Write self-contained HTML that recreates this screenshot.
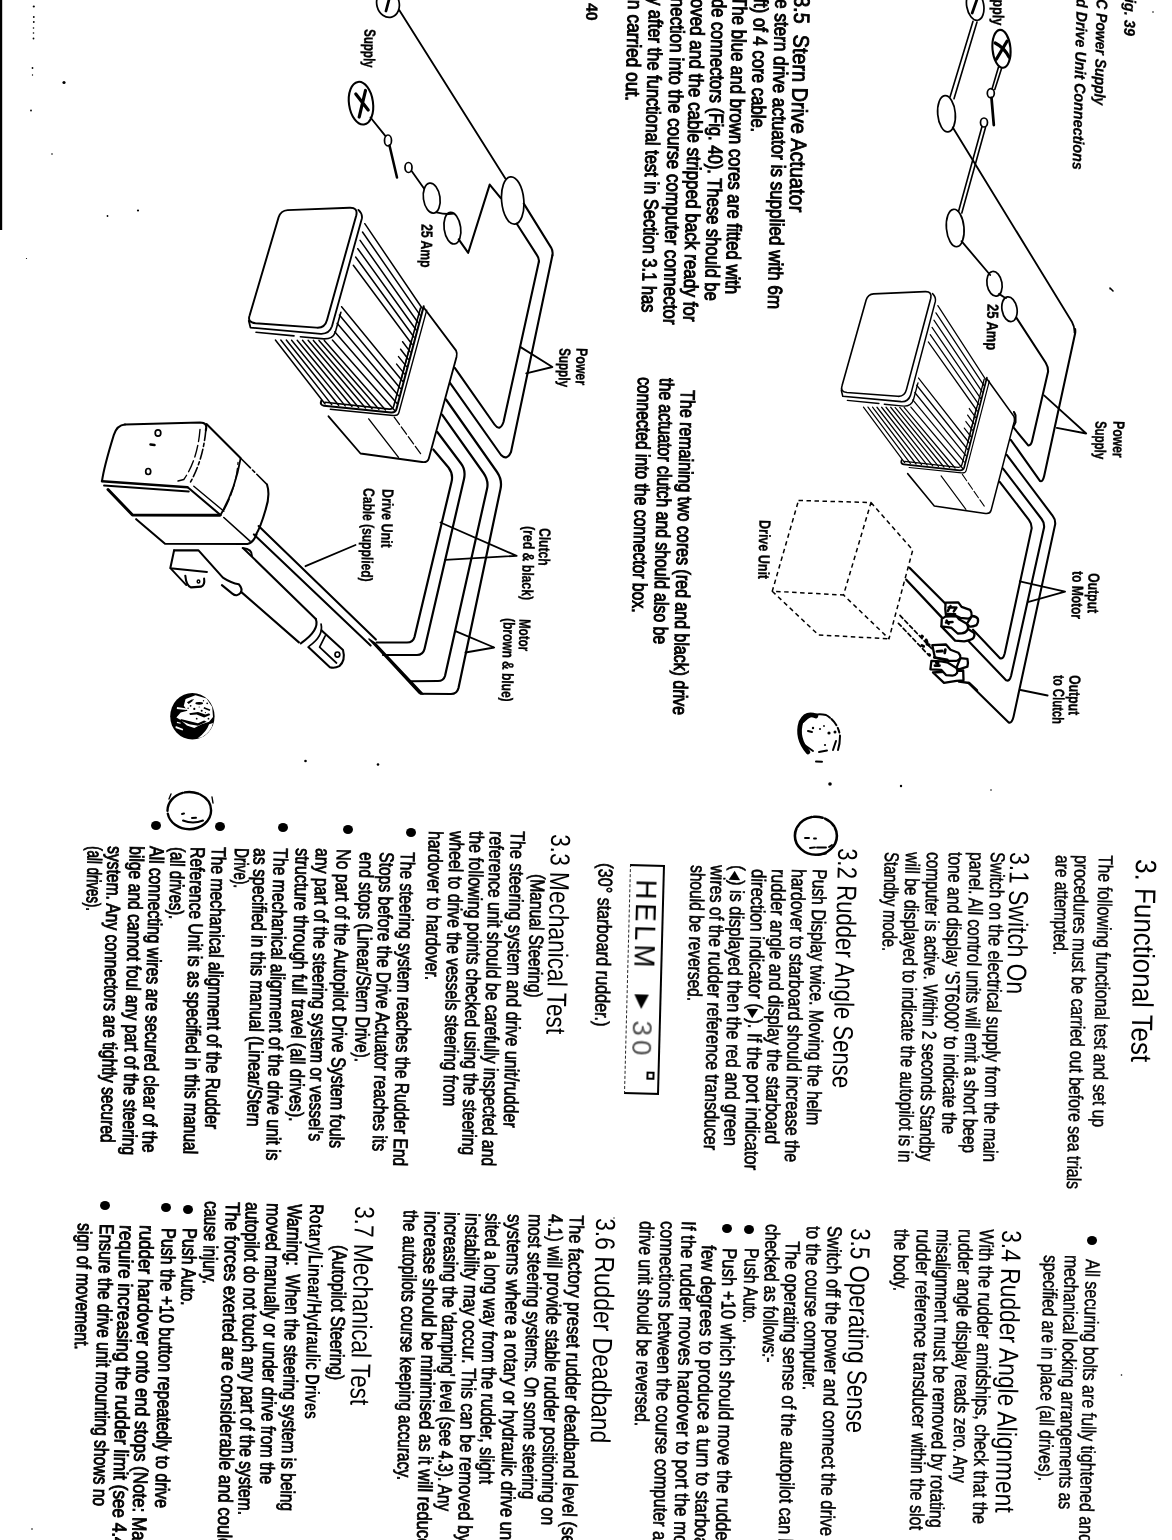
<!DOCTYPE html>
<html><head><meta charset="utf-8"><title>Functional Test</title><style>html,body{margin:0;padding:0;background:#fff}
body{width:1172px;height:1540px;position:relative;overflow:hidden;font-family:"Liberation Sans",sans-serif;color:#000}
.t{position:absolute;white-space:nowrap;line-height:1;transform-origin:0 0;margin:0;padding:0}
.b{font-size:20px;-webkit-text-stroke:0.6px #000}
.k{font-size:20px;-webkit-text-stroke:1px #000}
.bb{font-size:20px;font-weight:bold}
.h1{font-size:29.5px}
.h{font-size:27.5px}
.h3{font-size:22px;-webkit-text-stroke:0.9px #000}
.lab{font-size:16px;font-weight:bold;-webkit-text-stroke:0.35px #000}
.cap{font-size:15.5px;font-weight:bold;font-style:italic;-webkit-text-stroke:0.3px #000}
.t i{font-style:normal;font-family:"DejaVu Sans",sans-serif;font-size:15px;-webkit-text-stroke:0;line-height:0}
.t b{-webkit-text-stroke:0.9px #000;font-weight:normal}
.bl{position:absolute;width:10px;height:9px;border-radius:50%;background:#000}
svg{position:absolute;left:0;top:0}
#txt{position:absolute;left:0;top:0;width:1172px;height:1540px;will-change:transform}
</style></head><body>
<svg width="1172" height="1540" viewBox="0 0 1172 1540" fill="none" stroke="#000" stroke-linecap="round" stroke-linejoin="round">
<ellipse cx="388.0" cy="3.8" rx="11.2" ry="13.8" transform="rotate(-15 388.0 3.8)" stroke-width="1.72" />
<path d="M 389.2 -1.2 L 386.0 11.0" stroke-width="2.76" />
<path d="M 399.2 10.0 L 505.5 178.8" stroke-width="1.84" />
<ellipse cx="512.7" cy="200.5" rx="11.1" ry="23.8" transform="rotate(-5 512.7 200.5)" stroke-width="1.72" />
<ellipse cx="361.0" cy="103.2" rx="12.0" ry="21.5" transform="rotate(-8 361.0 103.2)" stroke-width="2.07" />
<path d="M 355.8 94.0 L 368.2 110.0 M 365.5 90.5 L 359.2 117.0" stroke-width="3.22" />
<path d="M 370.5 117.5 L 385.5 136.2" stroke-width="1.84" />
<ellipse cx="388.0" cy="140.5" rx="3.5" ry="5.5" transform="rotate(0 388.0 140.5)" stroke-width="1.72" />
<path d="M 389.5 145.5 L 397.0 177.5" stroke-width="2.53" />
<ellipse cx="408.5" cy="167.5" rx="3.5" ry="5.0" transform="rotate(0 408.5 167.5)" stroke-width="1.72" />
<path d="M 411.8 171.2 L 424.2 188.8" stroke-width="1.84" />
<ellipse cx="431.7" cy="198.1" rx="8.3" ry="15.1" transform="rotate(-8 431.7 198.1)" stroke-width="1.72" />
<ellipse cx="452.4" cy="228.2" rx="8.3" ry="15.9" transform="rotate(-8 452.4 228.2)" stroke-width="1.72" />
<path d="M 436.5 212.4 Q 446.0 214.8 454.0 213.6" stroke-width="1.84" />
<path d="M 458.7 239.4 L 468.2 252.8 L 489.7 184.6 L 500.8 198.1" stroke-width="2.07" />
<path d="M 523.8 203.6 L 551.1 247.6 Q 553.2 251.3 552.4 255.2" stroke-width="2.07" />
<path d="M 516.6 223.5 L 536.8 254.9 Q 539.3 258.4 538.9 261.6" stroke-width="2.07" />
<path d="M 552.4 255.2 L 511 452 Q 507 461 501 455 L 450 382.8" stroke-width="2.1"/>
<path d="M 538.9 261.6 L 503.5 422 Q 500 432 494.5 424.5 L 454.8 367.8" stroke-width="2.1"/>
<path d="M 520.6 347.1 L 552.4 367.0 L 526.2 373.3" stroke-width="1.84" />
<path d="M 446 399.5 L 497 472 Q 502.5 480 500.5 489 L 458.5 688 Q 457 694 451 694 L 420.5 693.75" stroke-width="2.2"/>
<path d="M 442.1 414.6 L 483.5 473 Q 489 481 487 489 L 445 676 Q 443.5 681 438 681 L 410.5 681.25" stroke-width="2.2"/>
<path d="M 437.3 432 L 461 463.5 Q 466 470 464 479 L 424.5 649 Q 423 655 417 655 L 383 655" stroke-width="2.2"/>
<path d="M 433.3 449.5 L 448.5 467.5 Q 453.5 474 451.5 482 L 414.5 637 Q 413 642.5 407 642.5 L 376.75 642.5" stroke-width="2.2"/>
<path d="M 369 639 L 419 693 L 423 694 L 375 643 Z" fill="#000" stroke-width="1.5"/>
<path d="M 440.5 522.5 L 516.6 555.8 L 445.2 559.8" stroke-width="1.84" />
<path d="M 455.5 631.2 L 494.2 647.5 L 465.5 652.5" stroke-width="1.84" />
<path d="M 355.5 545.0 L 305.5 566.2" stroke-width="1.84" />
<path d="M 287.6 210.1 L 349.5 207.7 Q 358.0 207.3 356.3 215.2 L 327.1 319.7 Q 324.9 328.3 316.4 327.6 L 255.6 323.3 Q 247.1 322.5 249.6 315.5 L 278.6 217.3 Q 280.8 210.5 287.6 210.1 Z" stroke-width="1.95" />
<path d="M 248.8 320.8 L 250.5 327.6 L 320.7 333.8 Q 329.2 334.2 332.0 326.3 L 361.8 218.8 Q 362.9 214.1 358.4 209.9" stroke-width="1.84" />
<path d="M 256.0 332.3 L 294.0 335.9 M 300.4 336.8 L 323.9 338.9 Q 332.8 339.1 335.4 331.9 L 340.9 312.3" stroke-width="1.61" />
<path d="M 364.8 223.7 L 422.0 308.0" stroke-width="1.49" />
<path d="M 362.5 232.0 L 420.1 315.2" stroke-width="1.49" />
<path d="M 360.1 240.4 L 418.1 322.7" stroke-width="1.49" />
<path d="M 357.8 248.7 L 416.2 330.0" stroke-width="1.49" />
<path d="M 355.6 257.0 L 414.1 337.2" stroke-width="1.49" />
<path d="M 353.3 265.3 L 412.2 344.5" stroke-width="1.49" />
<path d="M 402.6 341.7 L 410.2 351.9" stroke-width="1.49" />
<path d="M 400.6 349.2 L 408.3 359.2" stroke-width="1.49" />
<path d="M 398.5 356.6 L 406.4 366.4" stroke-width="1.49" />
<path d="M 396.6 364.1 L 404.5 373.9" stroke-width="1.49" />
<path d="M 341.6 306.7 L 402.6 381.2" stroke-width="1.49" />
<path d="M 339.4 315.0 L 400.4 388.4" stroke-width="1.49" />
<path d="M 337.1 323.3 L 398.5 395.7" stroke-width="1.49" />
<path d="M 334.7 331.7 L 396.6 403.1" stroke-width="1.49" />
<path d="M 332.4 340.0 L 394.7 410.4" stroke-width="1.49" />
<path d="M 411.3 340.4 L 401.3 379.4" stroke-width="1.49" />
<path d="M 324.3 340.4 L 385.5 409.9" stroke-width="1.49" />
<path d="M 319.0 340.4 L 378.9 409.3" stroke-width="1.49" />
<path d="M 313.4 340.4 L 372.1 408.7" stroke-width="1.49" />
<path d="M 308.1 340.2 L 365.5 408.0" stroke-width="1.49" />
<path d="M 302.5 340.2 L 358.6 407.4" stroke-width="1.49" />
<path d="M 297.2 340.2 L 352.0 406.5" stroke-width="1.49" />
<path d="M 291.6 340.2 L 345.2 405.9" stroke-width="1.49" />
<path d="M 286.3 340.0 L 338.6 405.3" stroke-width="1.49" />
<path d="M 280.8 340.0 L 331.7 404.6" stroke-width="1.49" />
<path d="M 275.4 340.0 L 325.1 404.0" stroke-width="1.49" />
<path d="M 423.7 306.3 L 396.4 409.3 Q 395.3 412.9 391.0 412.5 L 323.9 405.7 Q 319.6 405.0 321.3 400.8" stroke-width="2.07" />
<path d="M 420.5 308.0 L 393.6 406.5 Q 392.5 409.5 389.3 409.1 L 324.9 402.3" stroke-width="1.61" />
<path d="M 426.7 310.1 L 398.9 412.5 Q 398.1 415.9 393.2 415.5 L 330.3 409.3" stroke-width="1.38" />
<path d="M 424.1 308.0 L 456.1 350.6 Q 457.4 353.2 456.5 357.0 L 428.8 458.4 Q 427.5 462.8 422.0 462.0 L 360.5 453.5 L 328.5 416.3" stroke-width="1.84" />
<path d="M 368.7 418.9 L 398.5 457.3" stroke-width="1.38" />
<path d="M 394.2 417.2 L 422.0 455.6" stroke-width="1.26" stroke-dasharray="9 3"/>
<path d="M 125.0 424.5 L 200.0 422.5 Q 208.0 422.5 205.8 430.5" stroke-width="2.07" />
<path d="M 125.0 424.5 Q 117.0 425.0 113.8 435.0 Q 103.8 467.5 102.0 481.2" stroke-width="2.07" />
<path d="M 205.8 430.5 Q 203.0 460.0 190.0 483.0" stroke-width="1.61" stroke-dasharray="10 3 3 3"/>
<path d="M 200.0 429.5 Q 197.5 460.0 183.8 479.5 L 178.0 481.0" stroke-width="1.38" stroke-dasharray="12 4"/>
<path d="M 102.0 481.2 L 187.5 487.2" stroke-width="2.53" />
<path d="M 104.0 485.5 L 188.8 491.5" stroke-width="1.84" />
<path d="M 108.0 489.5 L 132.5 515.0 L 220.0 515.2" stroke-width="2.99" />
<path d="M 136.2 519.2 L 165.0 543.8 L 247.5 544.0 Q 253.0 543.0 256.5 534.5" stroke-width="2.07" />
<path d="M 206.5 424.0 L 240.5 458.0" stroke-width="2.07" />
<path d="M 240.5 458.0 L 267.0 484.5" stroke-width="1.61" stroke-dasharray="14 3 3 3"/>
<path d="M 267.0 484.5 Q 270.5 495.0 265.5 510.0 Q 260.5 527.5 255.5 535.5" stroke-width="2.07" />
<path d="M 188.0 487.5 L 220.5 515.0" stroke-width="2.07" />
<path d="M 193.8 486.2 L 223.8 511.2" stroke-width="1.38" />
<path d="M 220.5 515.0 Q 235.0 490.0 240.5 458.8" stroke-width="1.84" />
<path d="M 224.0 510.0 Q 236.2 487.5 238.0 462.5" stroke-width="1.26" stroke-dasharray="12 4"/>
<path d="M 223.8 517.5 L 250.0 541.2" stroke-width="1.61" />
<ellipse cx="158.0" cy="433.0" rx="2.8" ry="3.2" transform="rotate(0 158.0 433.0)" stroke-width="1.72" />
<ellipse cx="148.2" cy="471.5" rx="2.5" ry="3.0" transform="rotate(0 148.2 471.5)" stroke-width="1.72" />
<path d="M 150.5 444.5 L 154.5 445.0" stroke-width="2.53" />
<path d="M 258.6 526.0 L 375.9 639.6" stroke-width="2.07" />
<path d="M 253.9 534.4 L 370.6 645.6" stroke-width="2.07" />
<path d="M 243.5 548.5 L 315.8 618.9" stroke-width="2.07" />
<path d="M 241.1 591.9 L 298.9 642.4" stroke-width="2.07" />
<path d="M 315.8 618.9 Q 319.9 630.2 300.8 643.3" stroke-width="2.07" />
<path d="M 321.1 624.2 Q 323.7 635.8 309.2 646.1" stroke-width="1.72" />
<path d="M 242.6 548.0 Q 252.4 549.1 252.0 556.0" stroke-width="1.84" />
<path d="M 321.4 630.2 L 343.0 649.9 Q 345.8 660.2 339.3 666.2 Q 334.6 668.7 329.9 667.3 L 308.3 647.1" stroke-width="2.07" />
<path d="M 325.2 635.8 L 319.6 647.1 L 336.5 663.0" stroke-width="1.72" />
<ellipse cx="337.4" cy="654.6" rx="2.4" ry="2.6" transform="rotate(0 337.4 654.6)" stroke-width="1.72" />
<path d="M 174.1 550.4 L 198.5 550.4 L 222.9 577.6 Q 231.3 583.2 238.8 584.2 Q 243.0 588.9 240.7 592.6 Q 237.0 597.3 232.3 593.6 L 221.9 585.1" stroke-width="2.07" />
<path d="M 174.1 550.4 L 170.3 568.2 L 206.9 572.0" stroke-width="2.07" />
<path d="M 171.3 569.2 L 186.3 585.1" stroke-width="1.84" />
<path d="M 185.3 575.7 Q 186.3 586.1 191.0 587.4 L 201.3 586.6 Q 205.1 585.1 204.1 578.6" stroke-width="2.07" />
<ellipse cx="198.5" cy="581.4" rx="1.3" ry="1.5" transform="rotate(0 198.5 581.4)" stroke-width="1.49" />
<ellipse cx="975.2" cy="5.5" rx="8.5" ry="15.0" transform="rotate(-10 975.2 5.5)" stroke-width="1.72" />
<path d="M 977.2 -1.2 L 972.2 13.0" stroke-width="2.76" />
<ellipse cx="1001.5" cy="48.8" rx="9.0" ry="19.0" transform="rotate(-5 1001.5 48.8)" stroke-width="2.07" />
<path d="M 996.5 59.0 L 1007.0 41.2 M 995.2 43.0 Q 1004.0 47.5 1009.0 57.0" stroke-width="3.22" />
<path d="M 973.0 21.2 L 950.0 97.0 M 977.0 22.0 L 954.0 98.8" stroke-width="1.61" />
<ellipse cx="946.5" cy="113.8" rx="8.8" ry="18.2" transform="rotate(-5 946.5 113.8)" stroke-width="1.72" />
<path d="M 952.8 127.5 L 1072.0 322.0 Q 1074.8 327.0 1074.5 332.5" stroke-width="1.84" />
<path d="M 998.5 67.0 L 992.0 89.0 M 1001.8 67.8 L 994.8 89.5" stroke-width="1.61" />
<ellipse cx="990.8" cy="93.2" rx="3.5" ry="4.5" transform="rotate(0 990.8 93.2)" stroke-width="1.72" />
<path d="M 991.5 98.0 L 993.8 125.0" stroke-width="2.76" />
<ellipse cx="984.0" cy="122.5" rx="3.5" ry="4.5" transform="rotate(0 984.0 122.5)" stroke-width="1.72" />
<path d="M 982.0 126.5 L 958.5 211.5 M 985.5 127.5 L 961.8 213.0" stroke-width="1.61" />
<ellipse cx="955.2" cy="228.0" rx="8.8" ry="18.8" transform="rotate(-5 955.2 228.0)" stroke-width="1.72" />
<path d="M 961.5 241.2 L 990.2 275.0" stroke-width="1.84" />
<ellipse cx="994.5" cy="283.8" rx="7.5" ry="12.5" transform="rotate(-10 994.5 283.8)" stroke-width="1.72" />
<ellipse cx="1009.5" cy="309.2" rx="7.5" ry="12.5" transform="rotate(-10 1009.5 309.2)" stroke-width="1.72" />
<path d="M 999.0 293.8 Q 1004.0 297.5 1006.0 298.0" stroke-width="1.72" />
<path d="M 1016.3 317.6 L 1045.7 362.8 Q 1048.2 366.8 1048.1 371.6 L 1032.2 440.6 Q 1031.1 445.8 1028.2 445.4 L 1013.2 427.1 L 1015.5 422.4 L 1015.5 415.2 L 1014.0 412.0" stroke-width="2.07" />
<path d="M 1075.1 329.0 Q 1075.5 331.6 1075.1 333.5 L 1044.1 476.3 Q 1042.8 481.9 1040.1 481.1 L 1010.8 439.8" stroke-width="2.07" />
<path d="M 1044.1 395.4 L 1086.2 433.5 L 1056.8 427.9" stroke-width="1.84" />
<path d="M 999.7 481.9 L 1028.9 519.8 Q 1031.7 523.3 1031.7 528.1 L 1004.7 653.5 Q 1003.2 659.5 1000.0 658.2 L 973.0 629.7" stroke-width="2.1"/>
<path d="M 1002.9 468.4 L 1041.6 519.0 Q 1044.4 522.5 1044.1 527.3 L 1011.1 675.7 Q 1009.5 681.7 1006.3 680.4 L 968.2 640.8" stroke-width="2.1"/>
<path d="M 1006.8 454.9 L 1052.7 515.9 Q 1055.5 519.4 1055.2 524.1 L 1013.5 716.9 Q 1011.9 723.6 1008.7 722.5 L 968.2 682.8" stroke-width="2.1"/>
<path d="M 1019.8 581.3 L 1065.1 591.6 L 1028.6 601.9" stroke-width="1.84" />
<path d="M 1047.6 695.5 L 1020.6 690.0" stroke-width="1.84" />
<path d="M 909.5 567.8 L 946.0 604.3 M 906.3 579.7 L 942.9 618.6" stroke-width="2.30" />
<path d="M 900.0 615.4 L 931.7 648.7 M 898.4 623.3 L 928.6 655.1" stroke-width="1.72" stroke-dasharray="4 3"/>
<path d="M 941.4 626.4 L 955.1 640.6 L 964.2 641.4 Q 971.9 640.0 973.6 637.7 Q 975.2 634.8 973.9 632.9 L 968.1 629.0 Z" stroke-width="2.30" fill="#fff"/>
<path d="M 971.9 616.0 Q 976.5 616.3 977.8 618.6 Q 978.8 621.8 976.5 625.1 Q 971.9 627.0 969.4 626.4 L 966.8 623.8 Z" stroke-width="2.30" fill="#fff"/>
<path d="M 941.8 618.9 L 945.3 616.6 L 956.4 616.0 L 959.0 619.2 L 966.8 623.8 Q 968.7 626.4 967.7 629.6 Q 965.5 633.2 961.6 633.4 L 957.7 633.5 L 951.2 627.7 L 941.4 626.4 Z" stroke-width="2.30" fill="#fff"/>
<path d="M 945.6 602.7 L 958.3 602.3 L 961.6 606.9 L 970.0 609.8 Q 972.3 612.7 971.6 616.0 Q 970.0 618.6 968.1 618.6 L 960.3 617.9 L 956.4 616.0 L 946.0 615.5 Q 944.7 609.5 945.6 602.7 Z" stroke-width="2.30" fill="#fff"/>
<path d="M 948.6 607.5 L 955.1 607.5 M 947.9 610.8 L 950.5 606.2 M 953.8 611.4 L 956.4 607.5 M 947.3 614.0 L 955.1 614.2 M 946.0 622.5 L 952.5 622.1 M 946.6 620.5 L 948.6 623.8" stroke-width="2.53" />
<path d="M 933.0 672.5 L 944.0 682.9 L 956.4 680.9 L 963.5 680.3 L 963.2 670.5 Z" stroke-width="2.30" fill="#fff"/>
<path d="M 960.3 658.2 L 967.4 658.8 Q 968.4 662.7 967.4 666.6 L 959.0 669.4 L 956.4 667.9 Z" stroke-width="2.30" fill="#fff"/>
<path d="M 931.4 660.8 L 941.4 661.4 L 947.9 662.7 L 956.4 667.9 Q 958.0 670.5 957.0 673.1 Q 955.1 675.7 952.5 675.7 L 946.0 675.1 L 941.4 669.9 L 930.4 669.4 Z" stroke-width="2.30" fill="#fff"/>
<path d="M 932.3 645.2 L 946.0 644.5 L 950.5 649.7 L 958.3 652.7 Q 960.6 654.9 960.3 658.2 Q 958.3 660.8 956.4 660.8 L 948.6 660.8 L 934.9 657.5 Z" stroke-width="2.30" fill="#fff"/>
<path d="M 936.9 651.4 L 942.1 651.0 M 945.3 649.7 L 944.7 653.0 M 934.3 657.5 L 947.3 659.8 M 934.9 665.6 L 939.5 665.6 M 936.2 662.7 L 938.2 663.1" stroke-width="2.76" />
<path d="M 959.0 681.6 L 969.4 683.0 L 977.1 690.3" stroke-width="2.30" />
<path d="M 921.9 636.1 L 922.5 636.5 M 921.9 645.5 L 923.6 646.3 M 926.2 640.0 L 927.1 642.6 M 927.1 644.2 L 929.1 645.0 M 929.1 654.6 L 929.6 655.1" stroke-width="2.99" />
<path d="M 798.5 500.5 L 871 502.5 L 843.5 595 L 772.25 591.25 Z M 871 502.5 L 912.75 550 L 889 638.75 L 843.5 595 M 772.25 591.25 L 818.5 635 L 889 638.75" stroke-width="1.5" stroke-dasharray="4.5 3.5" stroke-linecap="butt"/>
<g transform="translate(868.3 294.5) scale(0.832 0.872) translate(-281.2 -210.9)">
<path d="M 287.6 210.1 L 349.5 207.7 Q 358.0 207.3 356.3 215.2 L 327.1 319.7 Q 324.9 328.3 316.4 327.6 L 255.6 323.3 Q 247.1 322.5 249.6 315.5 L 278.6 217.3 Q 280.8 210.5 287.6 210.1 Z" stroke-width="1.95" />
<path d="M 248.8 320.8 L 250.5 327.6 L 320.7 333.8 Q 329.2 334.2 332.0 326.3 L 361.8 218.8 Q 362.9 214.1 358.4 209.9" stroke-width="1.84" />
<path d="M 256.0 332.3 L 294.0 335.9 M 300.4 336.8 L 323.9 338.9 Q 332.8 339.1 335.4 331.9 L 340.9 312.3" stroke-width="1.61" />
<path d="M 364.8 223.7 L 422.0 308.0" stroke-width="1.49" />
<path d="M 362.5 232.0 L 420.1 315.2" stroke-width="1.49" />
<path d="M 360.1 240.4 L 418.1 322.7" stroke-width="1.49" />
<path d="M 357.8 248.7 L 416.2 330.0" stroke-width="1.49" />
<path d="M 355.6 257.0 L 414.1 337.2" stroke-width="1.49" />
<path d="M 353.3 265.3 L 412.2 344.5" stroke-width="1.49" />
<path d="M 402.6 341.7 L 410.2 351.9" stroke-width="1.49" />
<path d="M 400.6 349.2 L 408.3 359.2" stroke-width="1.49" />
<path d="M 398.5 356.6 L 406.4 366.4" stroke-width="1.49" />
<path d="M 396.6 364.1 L 404.5 373.9" stroke-width="1.49" />
<path d="M 341.6 306.7 L 402.6 381.2" stroke-width="1.49" />
<path d="M 339.4 315.0 L 400.4 388.4" stroke-width="1.49" />
<path d="M 337.1 323.3 L 398.5 395.7" stroke-width="1.49" />
<path d="M 334.7 331.7 L 396.6 403.1" stroke-width="1.49" />
<path d="M 332.4 340.0 L 394.7 410.4" stroke-width="1.49" />
<path d="M 411.3 340.4 L 401.3 379.4" stroke-width="1.49" />
<path d="M 324.3 340.4 L 385.5 409.9" stroke-width="1.49" />
<path d="M 319.0 340.4 L 378.9 409.3" stroke-width="1.49" />
<path d="M 313.4 340.4 L 372.1 408.7" stroke-width="1.49" />
<path d="M 308.1 340.2 L 365.5 408.0" stroke-width="1.49" />
<path d="M 302.5 340.2 L 358.6 407.4" stroke-width="1.49" />
<path d="M 297.2 340.2 L 352.0 406.5" stroke-width="1.49" />
<path d="M 291.6 340.2 L 345.2 405.9" stroke-width="1.49" />
<path d="M 286.3 340.0 L 338.6 405.3" stroke-width="1.49" />
<path d="M 280.8 340.0 L 331.7 404.6" stroke-width="1.49" />
<path d="M 275.4 340.0 L 325.1 404.0" stroke-width="1.49" />
<path d="M 423.7 306.3 L 396.4 409.3 Q 395.3 412.9 391.0 412.5 L 323.9 405.7 Q 319.6 405.0 321.3 400.8" stroke-width="2.07" />
<path d="M 420.5 308.0 L 393.6 406.5 Q 392.5 409.5 389.3 409.1 L 324.9 402.3" stroke-width="1.61" />
<path d="M 426.7 310.1 L 398.9 412.5 Q 398.1 415.9 393.2 415.5 L 330.3 409.3" stroke-width="1.38" />
<path d="M 424.1 308.0 L 456.1 350.6 Q 457.4 353.2 456.5 357.0 L 428.8 458.4 Q 427.5 462.8 422.0 462.0 L 360.5 453.5 L 328.5 416.3" stroke-width="1.84" />
<path d="M 368.7 418.9 L 398.5 457.3" stroke-width="1.38" />
<path d="M 394.2 417.2 L 422.0 455.6" stroke-width="1.26" stroke-dasharray="9 3"/>
</g>
<ellipse cx="192.4" cy="716.3" rx="22.2" ry="23.3" fill="#000" stroke="none"/>
<path d="M 185.6 699.0 L 195.5 695.3 L 206.6 698.4 L 212.2 707.0 L 213.0 716.9 L 209.1 721.8 L 201.7 724.3 L 194.3 728.0 L 186.9 725.5 L 180.7 720.0 L 176.4 717.5 L 180.7 712.6 L 187.5 710.7 L 183.8 705.8 Z" stroke-width="0.00" stroke="none" fill="#fff"/>
<path d="M 213.0 723.0 Q 211.5 731.7 201.7 737.6 L 198.0 738.1 Q 206.6 731.7 209.1 724.3 Z" stroke-width="0.00" stroke="none" fill="#fff"/>
<path d="M 177.0 707.0 L 186.9 708.5 L 186.6 710.1 L 176.8 708.9 Z M 175.8 726.1 L 183.2 729.0 L 182.6 730.4 L 175.5 728.0 Z M 177.0 721.8 L 180.7 722.8 L 180.5 723.8 L 176.8 723.0 Z" stroke-width="0.00" stroke="none" fill="#fff"/>
<path d="M 180.7 719.1 L 198.0 723.3 L 204.1 720.6 L 206.6 721.8 L 198.0 725.7 L 189.3 724.3 L 180.7 720.8 Z" stroke-width="0.00" stroke="none" fill="#000"/>
<path d="M 189.3 713.2 L 198.0 711.9 L 205.4 714.6 L 209.1 713.2 L 210.3 715.0 L 204.1 717.5 L 196.7 714.6 L 190.0 715.1 Z" stroke-width="0.00" stroke="none" fill="#000"/>
<path d="M 186.9 702.3 L 191.8 699.6 L 193.0 700.8 L 188.7 703.9 Z M 204.1 707.0 L 210.3 709.5 L 209.7 710.9 L 203.5 708.5 Z" stroke-width="0.00" stroke="none" fill="#000"/>
<ellipse cx="199.2" cy="703.3" rx="3.9" ry="1.4" transform="rotate(0 199.2 703.3)" stroke-width="0.00" stroke="none" fill="#000"/>
<ellipse cx="194.3" cy="708.9" rx="1.1" ry="1.1" transform="rotate(0 194.3 708.9)" stroke-width="0.00" stroke="none" fill="#000"/>
<ellipse cx="190.6" cy="705.8" rx="0.9" ry="0.9" transform="rotate(0 190.6 705.8)" stroke-width="0.00" stroke="none" fill="#000"/>
<ellipse cx="201.7" cy="710.7" rx="1.0" ry="1.0" transform="rotate(0 201.7 710.7)" stroke-width="0.00" stroke="none" fill="#000"/>
<ellipse cx="207.2" cy="703.3" rx="0.9" ry="0.9" transform="rotate(0 207.2 703.3)" stroke-width="0.00" stroke="none" fill="#000"/>
<ellipse cx="196.7" cy="718.7" rx="0.9" ry="0.9" transform="rotate(0 196.7 718.7)" stroke-width="0.00" stroke="none" fill="#000"/>
<ellipse cx="193.0" cy="699.6" rx="0.7" ry="0.7" transform="rotate(0 193.0 699.6)" stroke-width="0.00" stroke="none" fill="#000"/>
<ellipse cx="203.5" cy="700.8" rx="0.7" ry="0.7" transform="rotate(0 203.5 700.8)" stroke-width="0.00" stroke="none" fill="#000"/>
<ellipse cx="208.5" cy="718.7" rx="0.9" ry="0.9" transform="rotate(0 208.5 718.7)" stroke-width="0.00" stroke="none" fill="#000"/>
<ellipse cx="199.2" cy="707.0" rx="0.6" ry="0.6" transform="rotate(0 199.2 707.0)" stroke-width="0.00" stroke="none" fill="#000"/>
<ellipse cx="188.1" cy="708.2" rx="0.7" ry="0.7" transform="rotate(0 188.1 708.2)" stroke-width="0.00" stroke="none" fill="#000"/>
<ellipse cx="205.4" cy="712.6" rx="0.6" ry="0.6" transform="rotate(0 205.4 712.6)" stroke-width="0.00" stroke="none" fill="#000"/>
<path d="M 808 752 Q 796 738 801 722 Q 806 712 816 716" stroke-width="4.6"/>
<path d="M 803 722 Q 812 712 826 715 Q 838 722 840 736 Q 840 744 838 750" stroke-width="2" stroke-dasharray="30 2 8 3 5 3"/>
<path d="M 803 744 l 10 7 M 819 752 l 8 -1.5 M 808 731 l 4 1 M 816 761.5 l 6 0.3 M 836 741 l -3 9" stroke-width="2"/>
<g fill="#000" stroke="none"><circle cx="829" cy="733" r="1.6"/><circle cx="835" cy="732" r="1.5"/><circle cx="820" cy="729" r="1"/><circle cx="813" cy="728" r="1.2"/><circle cx="824" cy="726" r="0.9"/><circle cx="825" cy="745" r="1.1"/><circle cx="830" cy="784" r="1.8"/></g>
<ellipse cx="815.9" cy="835.7" rx="21" ry="19" stroke-width="2.6" stroke-dasharray="70 1.5 18 2 9 2.5 12 1.5"/>
<path d="M 805 838 l 4 0 M 814 838.5 l 2 0 M 810 848 l 5 -0.6 M 817 847.5 l 9 0 M 818 855 l 8 -1.5 M 829 847 l 3 -2" stroke-width="1.9"/>
<ellipse cx="189.3" cy="810.6" rx="21.8" ry="18.6" stroke-width="2.4" stroke-dasharray="60 3 25 2 14 2"/>
<path d="M 183 820.5 q 10 4 20 0 M 182 814 l 2 -0.5 M 192 818 l 4 -0.3" stroke-width="2"/>
<path d="M 169 799 l 2 -5 M 212 797 l 1 6" stroke-width="1.4"/>
<rect x="0" y="0" width="2.2" height="230" fill="#000" stroke="none"/>
<g fill="#000" stroke="none"><circle cx="33.8" cy="6.5" r="1.1"/><circle cx="33.8" cy="17" r="0.9"/><circle cx="33.8" cy="22" r="0.9"/><circle cx="33.5" cy="28" r="0.8"/><circle cx="33.5" cy="33" r="0.8"/><circle cx="33.5" cy="38.5" r="0.9"/><circle cx="32.5" cy="68" r="0.9"/><circle cx="32.5" cy="75" r="0.7"/><circle cx="64" cy="82.5" r="1.6"/><circle cx="31" cy="110.5" r="0.9"/><circle cx="52" cy="154" r="0.8"/><circle cx="107.5" cy="216" r="0.9"/><circle cx="138" cy="210.5" r="1.1"/><circle cx="26.5" cy="258.5" r="0.6"/><circle cx="901" cy="786" r="1.2"/><circle cx="991" cy="790" r="0.8"/><circle cx="305.5" cy="761" r="1.3"/><circle cx="378" cy="764.5" r="1.3"/><circle cx="1121.5" cy="1375" r="0.8"/><circle cx="614" cy="1218" r="0.7"/><circle cx="32" cy="1529" r="0.8"/><circle cx="1110" cy="289" r="0.6"/><circle cx="1153" cy="12" r="0.8"/></g>
<path d="M 1110 288 l 3 3" stroke-width="1.6"/>
</svg>
<div id="lcd" style="position:absolute;left:665.1px;top:865.4px;width:230px;height:35px;transform-origin:0 0;transform:rotate(91.5deg);box-sizing:border-box;border-top:2px solid #000;border-left:2px solid #000;border-right:2px solid #000;border-bottom:1.3px dashed #222;font-family:'Liberation Sans',sans-serif;will-change:transform">
<span style="position:absolute;left:13px;top:2px;font-size:29px;line-height:1;letter-spacing:4px;transform-origin:0 0;transform:scale(0.95,1);white-space:nowrap">HELM</span>
<span style="position:absolute;left:128px;top:7px;font-size:19px;line-height:1;font-family:'DejaVu Sans',sans-serif">&#9654;&#65038;</span>
<span style="position:absolute;left:154px;top:3px;font-size:28px;line-height:1;letter-spacing:4px;color:#555;white-space:nowrap">30</span>
<span style="position:absolute;left:205px;top:3px;width:4px;height:4px;border:2.2px solid #000"></span>
</div>

<div id="txt">
<div class="t h1" style="left:1135.5px;top:859.0px;transform:rotate(91.4deg) scale(0.8803,1) translate(0,-0.8465em)">3. Functional Test</div>
<div class="t b" style="-webkit-text-stroke-width:0.43px;left:1098.5px;top:855.0px;transform:rotate(91.4deg) scale(0.7869,1) translate(0,-0.8465em)">The following functional test and set up</div>
<div class="t b" style="-webkit-text-stroke-width:0.45px;left:1075.0px;top:855.0px;transform:rotate(91.4deg) scale(0.7867,1) translate(0,-0.8465em)">procedures must be carried out before sea trials</div>
<div class="t b" style="-webkit-text-stroke-width:0.45px;left:1056.0px;top:855.0px;transform:rotate(91.4deg) scale(0.7756,1) translate(0,-0.8465em)">are attempted.</div>
<div class="t h" style="left:1009.5px;top:852.0px;transform:rotate(91.4deg) scale(0.8297,1) translate(0,-0.8465em)">3.1 Switch On</div>
<div class="t b" style="-webkit-text-stroke-width:0.48px;left:991.0px;top:852.0px;transform:rotate(91.4deg) scale(0.7836,1) translate(0,-0.8465em)">Switch on the electrical supply from the main</div>
<div class="t b" style="-webkit-text-stroke-width:0.49px;left:970.0px;top:852.0px;transform:rotate(91.4deg) scale(0.7760,1) translate(0,-0.8465em)">panel. All control units will emit a short beep</div>
<div class="t b" style="-webkit-text-stroke-width:0.50px;left:948.5px;top:852.0px;transform:rotate(91.4deg) scale(0.7857,1) translate(0,-0.8465em)">tone and display 'ST6000' to indicate the</div>
<div class="t b" style="-webkit-text-stroke-width:0.51px;left:927.0px;top:852.0px;transform:rotate(91.4deg) scale(0.7660,1) translate(0,-0.8465em)">computer is active. Within 2 seconds Standby</div>
<div class="t b" style="-webkit-text-stroke-width:0.52px;left:906.0px;top:852.0px;transform:rotate(91.4deg) scale(0.7803,1) translate(0,-0.8465em)">will be displayed to indicate the autopilot is in</div>
<div class="t b" style="-webkit-text-stroke-width:0.53px;left:885.0px;top:852.0px;transform:rotate(91.4deg) scale(0.7361,1) translate(0,-0.8465em)">Standby mode.</div>
<div class="t h" style="left:837.5px;top:847.5px;transform:rotate(91.4deg) scale(0.8052,1) translate(0,-0.8465em)">3.2 Rudder Angle Sense</div>
<div class="t b" style="-webkit-text-stroke-width:0.57px;left:812.5px;top:869.0px;transform:rotate(91.4deg) scale(0.7862,1) translate(0,-0.8465em)">Push Display twice. Moving the helm</div>
<div class="t b" style="-webkit-text-stroke-width:0.58px;left:792.0px;top:869.0px;transform:rotate(91.4deg) scale(0.7916,1) translate(0,-0.8465em)">hardover to starboard should increase the</div>
<div class="t b" style="-webkit-text-stroke-width:0.59px;left:771.5px;top:869.0px;transform:rotate(91.4deg) scale(0.8033,1) translate(0,-0.8465em)">rudder angle and display the starboard</div>
<div class="t b" style="-webkit-text-stroke-width:0.60px;left:751.5px;top:869.0px;transform:rotate(91.4deg) scale(0.8273,1) translate(0,-0.8465em)">direction indicator (<i>&#9654;&#65038;</i>). If the port indicator</div>
<div class="t b" style="-webkit-text-stroke-width:0.61px;left:730.5px;top:865.0px;transform:rotate(91.4deg) scale(0.8197,1) translate(0,-0.8465em)">(<i>&#9664;&#65038;</i>) is displayed then the red and green</div>
<div class="t b" style="-webkit-text-stroke-width:0.62px;left:710.5px;top:865.0px;transform:rotate(91.4deg) scale(0.8014,1) translate(0,-0.8465em)">wires of the rudder reference transducer</div>
<div class="t b" style="-webkit-text-stroke-width:0.63px;left:690.5px;top:865.0px;transform:rotate(91.4deg) scale(0.7744,1) translate(0,-0.8465em)">should be reversed.</div>
<div class="t b" style="-webkit-text-stroke-width:0.67px;left:599.0px;top:862.5px;transform:rotate(91.4deg) scale(0.8119,1) translate(0,-0.8465em)">(30&deg; starboard rudder.)</div>
<div class="t h" style="left:551.0px;top:834.0px;transform:rotate(91.4deg) scale(0.8248,1) translate(0,-0.8465em)">3.3 Mechanical Test</div>
<div class="t b" style="-webkit-text-stroke-width:0.70px;left:531.0px;top:874.0px;transform:rotate(91.4deg) scale(0.7771,1) translate(0,-0.8465em)">(Manual Steering)</div>
<div class="t b" style="-webkit-text-stroke-width:0.71px;left:510.5px;top:831.0px;transform:rotate(91.4deg) scale(0.8036,1) translate(0,-0.8465em)">The steering system and drive unit/rudder</div>
<div class="t b" style="-webkit-text-stroke-width:0.72px;left:490.0px;top:831.0px;transform:rotate(91.4deg) scale(0.7890,1) translate(0,-0.8465em)">reference unit should be carefully inspected and</div>
<div class="t b" style="-webkit-text-stroke-width:0.73px;left:470.0px;top:831.0px;transform:rotate(91.4deg) scale(0.7836,1) translate(0,-0.8465em)">the following points checked using the steering</div>
<div class="t b" style="-webkit-text-stroke-width:0.74px;left:449.5px;top:831.0px;transform:rotate(91.4deg) scale(0.7831,1) translate(0,-0.8465em)">wheel to drive the vessels steering from</div>
<div class="t b" style="-webkit-text-stroke-width:0.75px;left:429.0px;top:831.0px;transform:rotate(91.4deg) scale(0.7839,1) translate(0,-0.8465em)">hardover to hardover.</div>
<div class="t b" style="-webkit-text-stroke-width:0.76px;left:400.5px;top:852.0px;transform:rotate(91.4deg) scale(0.7805,1) translate(0,-0.8465em)">The steering system reaches the Rudder End</div>
<div class="t b" style="-webkit-text-stroke-width:0.77px;left:380.0px;top:852.0px;transform:rotate(91.4deg) scale(0.7867,1) translate(0,-0.8465em)">Stops before the Drive Actuator reaches its</div>
<div class="t b" style="-webkit-text-stroke-width:0.78px;left:359.5px;top:852.0px;transform:rotate(91.4deg) scale(0.7713,1) translate(0,-0.8465em)">end stops (Linear/Stern Drive).</div>
<div class="t b" style="-webkit-text-stroke-width:0.79px;left:337.0px;top:848.5px;transform:rotate(91.4deg) scale(0.7960,1) translate(0,-0.8465em)">No part of the Autopilot Drive System fouls</div>
<div class="t b" style="-webkit-text-stroke-width:0.80px;left:316.0px;top:848.0px;transform:rotate(91.4deg) scale(0.7860,1) translate(0,-0.8465em)">any part of the steering system or vessel's</div>
<div class="t b" style="-webkit-text-stroke-width:0.81px;left:295.5px;top:847.5px;transform:rotate(91.4deg) scale(0.8043,1) translate(0,-0.8465em)">structure through full travel (all drives).</div>
<div class="t b" style="-webkit-text-stroke-width:0.82px;left:274.0px;top:847.5px;transform:rotate(91.4deg) scale(0.7898,1) translate(0,-0.8465em)">The mechanical alignment of the drive unit is</div>
<div class="t b" style="-webkit-text-stroke-width:0.83px;left:254.0px;top:847.5px;transform:rotate(91.4deg) scale(0.7831,1) translate(0,-0.8465em)">as specified in this manual (Linear/Stern</div>
<div class="t b" style="-webkit-text-stroke-width:0.84px;left:234.5px;top:847.5px;transform:rotate(91.4deg) scale(0.6794,1) translate(0,-0.8465em)">Drive).</div>
<div class="t b" style="-webkit-text-stroke-width:0.85px;left:212.0px;top:847.0px;transform:rotate(91.4deg) scale(0.7831,1) translate(0,-0.8465em)">The mechanical alignment of the Rudder</div>
<div class="t b" style="-webkit-text-stroke-width:0.86px;left:191.0px;top:847.0px;transform:rotate(91.4deg) scale(0.7803,1) translate(0,-0.8465em)">Reference Unit is as specified in this manual</div>
<div class="t b" style="-webkit-text-stroke-width:0.87px;left:171.0px;top:847.0px;transform:rotate(91.4deg) scale(0.7364,1) translate(0,-0.8465em)">(all drives).</div>
<div class="t b" style="-webkit-text-stroke-width:0.88px;left:149.5px;top:846.0px;transform:rotate(91.4deg) scale(0.7813,1) translate(0,-0.8465em)">All connecting wires are secured clear of the</div>
<div class="t b" style="-webkit-text-stroke-width:0.89px;left:129.5px;top:846.0px;transform:rotate(91.4deg) scale(0.7831,1) translate(0,-0.8465em)">bilge and cannot foul any part of the steering</div>
<div class="t b" style="-webkit-text-stroke-width:0.90px;left:108.0px;top:846.0px;transform:rotate(91.4deg) scale(0.7801,1) translate(0,-0.8465em)">system. Any connectors are tightly secured</div>
<div class="t b" style="-webkit-text-stroke-width:0.91px;left:88.0px;top:846.0px;transform:rotate(91.4deg) scale(0.6648,1) translate(0,-0.8465em)">(all drives).</div>
<div class="t b" style="-webkit-text-stroke-width:0.44px;left:1085.5px;top:1259.0px;transform:rotate(91.4deg) scale(0.8035,1) translate(0,-0.8465em)">All securing bolts are fully tightened and</div>
<div class="t b" style="-webkit-text-stroke-width:0.45px;left:1064.5px;top:1255.0px;transform:rotate(91.4deg) scale(0.7827,1) translate(0,-0.8465em)">mechanical locking arrangements as</div>
<div class="t b" style="-webkit-text-stroke-width:0.46px;left:1043.5px;top:1255.0px;transform:rotate(91.4deg) scale(0.7762,1) translate(0,-0.8465em)">specified are in place (all drives).</div>
<div class="t h" style="left:1002.0px;top:1230.0px;transform:rotate(91.4deg) scale(0.8288,1) translate(0,-0.8465em)">3.4 Rudder Angle Alignment</div>
<div class="t b" style="-webkit-text-stroke-width:0.49px;left:979.5px;top:1229.0px;transform:rotate(91.4deg) scale(0.8019,1) translate(0,-0.8465em)">With the rudder amidships, check that the</div>
<div class="t b" style="-webkit-text-stroke-width:0.50px;left:958.5px;top:1229.0px;transform:rotate(91.4deg) scale(0.7811,1) translate(0,-0.8465em)">rudder angle display reads zero. Any</div>
<div class="t b" style="-webkit-text-stroke-width:0.51px;left:937.0px;top:1229.0px;transform:rotate(91.4deg) scale(0.7923,1) translate(0,-0.8465em)">misalignment must be removed by rotating</div>
<div class="t b" style="-webkit-text-stroke-width:0.52px;left:917.0px;top:1229.0px;transform:rotate(91.4deg) scale(0.8037,1) translate(0,-0.8465em)">rudder reference transducer within the slot</div>
<div class="t b" style="-webkit-text-stroke-width:0.53px;left:895.0px;top:1229.0px;transform:rotate(91.4deg) scale(0.7674,1) translate(0,-0.8465em)">the body.</div>
<div class="t h" style="left:850.5px;top:1227.5px;transform:rotate(91.4deg) scale(0.8129,1) translate(0,-0.8465em)">3.5 Operating Sense</div>
<div class="t b" style="-webkit-text-stroke-width:0.56px;left:828.0px;top:1226.0px;transform:rotate(91.4deg) scale(0.8236,1) translate(0,-0.8465em)">Switch off the power and connect the drive unit</div>
<div class="t b" style="-webkit-text-stroke-width:0.57px;left:807.0px;top:1226.0px;transform:rotate(91.4deg) scale(0.7849,1) translate(0,-0.8465em)">to the course computer.</div>
<div class="t b" style="-webkit-text-stroke-width:0.58px;left:786.0px;top:1241.0px;transform:rotate(91.4deg) scale(0.8212,1) translate(0,-0.8465em)">The operating sense of the autopilot can be</div>
<div class="t b" style="-webkit-text-stroke-width:0.59px;left:766.0px;top:1224.0px;transform:rotate(91.4deg) scale(0.7693,1) translate(0,-0.8465em)">checked as follows:-</div>
<div class="t b" style="-webkit-text-stroke-width:0.60px;left:744.5px;top:1247.5px;transform:rotate(91.4deg) scale(0.7754,1) translate(0,-0.8465em)">Push Auto.</div>
<div class="t b" style="-webkit-text-stroke-width:0.61px;left:723.0px;top:1247.5px;transform:rotate(91.4deg) scale(0.8341,1) translate(0,-0.8465em)">Push +10 which should move the rudder a</div>
<div class="t b" style="-webkit-text-stroke-width:0.62px;left:702.0px;top:1245.0px;transform:rotate(91.4deg) scale(0.8367,1) translate(0,-0.8465em)">few degrees to produce a turn to starboard.</div>
<div class="t b" style="-webkit-text-stroke-width:0.63px;left:682.0px;top:1221.0px;transform:rotate(91.4deg) scale(0.8384,1) translate(0,-0.8465em)">If the rudder moves hardover to port the motor</div>
<div class="t b" style="-webkit-text-stroke-width:0.64px;left:661.0px;top:1221.0px;transform:rotate(91.4deg) scale(0.8130,1) translate(0,-0.8465em)">connections between the course computer and</div>
<div class="t b" style="-webkit-text-stroke-width:0.65px;left:639.5px;top:1221.0px;transform:rotate(91.4deg) scale(0.7816,1) translate(0,-0.8465em)">drive unit should be reversed.</div>
<div class="t h" style="left:595.5px;top:1217.5px;transform:rotate(91.4deg) scale(0.8317,1) translate(0,-0.8465em)">3.6 Rudder Deadband</div>
<div class="t b" style="-webkit-text-stroke-width:0.68px;left:569.5px;top:1215.0px;transform:rotate(91.4deg) scale(0.8250,1) translate(0,-0.8465em)">The factory preset rudder deadband level (see</div>
<div class="t b" style="-webkit-text-stroke-width:0.69px;left:548.5px;top:1214.0px;transform:rotate(91.4deg) scale(0.7972,1) translate(0,-0.8465em)">4.1) will provide stable rudder positioning on</div>
<div class="t b" style="-webkit-text-stroke-width:0.70px;left:528.5px;top:1214.0px;transform:rotate(91.4deg) scale(0.7749,1) translate(0,-0.8465em)">most steering systems. On some steering</div>
<div class="t b" style="-webkit-text-stroke-width:0.71px;left:507.5px;top:1214.0px;transform:rotate(91.4deg) scale(0.8311,1) translate(0,-0.8465em)">systems where a rotary or hydraulic drive unit is</div>
<div class="t b" style="-webkit-text-stroke-width:0.72px;left:486.0px;top:1213.0px;transform:rotate(91.4deg) scale(0.7917,1) translate(0,-0.8465em)">sited a long way from the rudder, slight</div>
<div class="t b" style="-webkit-text-stroke-width:0.73px;left:466.0px;top:1213.0px;transform:rotate(91.4deg) scale(0.8167,1) translate(0,-0.8465em)">instability may occur. This can be removed by</div>
<div class="t b" style="-webkit-text-stroke-width:0.74px;left:444.5px;top:1212.0px;transform:rotate(91.4deg) scale(0.7667,1) translate(0,-0.8465em)">increasing the 'damping' level (see 4.3). Any</div>
<div class="t b" style="-webkit-text-stroke-width:0.75px;left:424.5px;top:1211.0px;transform:rotate(91.4deg) scale(0.8289,1) translate(0,-0.8465em)">increase should be minimised as it will reduce</div>
<div class="t b" style="-webkit-text-stroke-width:0.76px;left:403.5px;top:1210.0px;transform:rotate(91.4deg) scale(0.7720,1) translate(0,-0.8465em)">the autopilots course keeping accuracy.</div>
<div class="t h" style="left:354.5px;top:1206.0px;transform:rotate(91.4deg) scale(0.8207,1) translate(0,-0.8465em)">3.7 Mechanical Test</div>
<div class="t b" style="-webkit-text-stroke-width:0.79px;left:333.0px;top:1245.0px;transform:rotate(91.4deg) scale(0.7888,1) translate(0,-0.8465em)">(Autopilot Steering)</div>
<div class="t bb" style="left:309.5px;top:1204.0px;transform:rotate(91.4deg) scale(0.7357,1) translate(0,-0.8465em)">Rotary/Linear/Hydraulic Drives</div>
<div class="t b" style="-webkit-text-stroke-width:0.81px;left:288.0px;top:1204.0px;transform:rotate(91.4deg) scale(0.7752,1) translate(0,-0.8465em)"><b>Warning:</b>&nbsp; When the steering system is being</div>
<div class="t b" style="-webkit-text-stroke-width:0.82px;left:266.5px;top:1203.0px;transform:rotate(91.4deg) scale(0.7951,1) translate(0,-0.8465em)">moved manually or under drive from the</div>
<div class="t b" style="-webkit-text-stroke-width:0.83px;left:246.0px;top:1202.0px;transform:rotate(91.4deg) scale(0.7844,1) translate(0,-0.8465em)">autopilot do not touch any part of the system.</div>
<div class="t b" style="-webkit-text-stroke-width:0.84px;left:225.5px;top:1202.0px;transform:rotate(91.4deg) scale(0.8374,1) translate(0,-0.8465em)">The forces exerted are considerable and could</div>
<div class="t b" style="-webkit-text-stroke-width:0.85px;left:204.5px;top:1201.0px;transform:rotate(91.4deg) scale(0.7493,1) translate(0,-0.8465em)">cause injury.</div>
<div class="t b" style="-webkit-text-stroke-width:0.86px;left:183.0px;top:1227.5px;transform:rotate(91.4deg) scale(0.8013,1) translate(0,-0.8465em)">Push Auto.</div>
<div class="t b" style="-webkit-text-stroke-width:0.87px;left:161.5px;top:1227.5px;transform:rotate(91.4deg) scale(0.8010,1) translate(0,-0.8465em)">Push the +10 button repeatedly to drive</div>
<div class="t b" style="-webkit-text-stroke-width:0.88px;left:139.5px;top:1225.0px;transform:rotate(91.4deg) scale(0.8472,1) translate(0,-0.8465em)">rudder hardover onto end stops (Note: May</div>
<div class="t b" style="-webkit-text-stroke-width:0.89px;left:119.5px;top:1225.0px;transform:rotate(91.4deg) scale(0.8585,1) translate(0,-0.8465em)">require increasing the rudder limit (see 4.4).</div>
<div class="t b" style="-webkit-text-stroke-width:0.90px;left:99.5px;top:1224.0px;transform:rotate(91.4deg) scale(0.7807,1) translate(0,-0.8465em)">Ensure the drive unit mounting shows no</div>
<div class="t b" style="-webkit-text-stroke-width:0.91px;left:78.0px;top:1222.5px;transform:rotate(91.4deg) scale(0.7743,1) translate(0,-0.8465em)">sign of movement.</div>
<div class="t lab" style="left:586.0px;top:2.5px;transform:rotate(91.4deg) scale(0.9836,1) translate(0,-0.8465em)">40</div>
<div class="t h3" style="left:793.6px;top:-4.0px;transform:rotate(91.4deg) scale(0.9015,1) translate(0,-0.8465em)">3.5&nbsp; Stern Drive Actuator</div>
<div class="t k" style="left:775.5px;top:-21.0px;transform:rotate(91.4deg) scale(0.8556,1) translate(0,-0.8465em)">The stern drive actuator is supplied with 6m</div>
<div class="t k" style="left:755.1px;top:-26.2px;transform:rotate(91.4deg) scale(0.8373,1) translate(0,-0.8465em)">(20ft) of 4 core cable.</div>
<div class="t k" style="left:733.1px;top:-4.0px;transform:rotate(91.4deg) scale(0.8379,1) translate(0,-0.8465em)">The blue and brown cores are fitted with</div>
<div class="t k" style="left:712.7px;top:-27.7px;transform:rotate(91.4deg) scale(0.8292,1) translate(0,-0.8465em)">spade connectors (Fig. 40). These should be</div>
<div class="t k" style="left:691.8px;top:-31.4px;transform:rotate(91.4deg) scale(0.8547,1) translate(0,-0.8465em)">removed and the cable stripped back ready for</div>
<div class="t k" style="left:671.7px;top:-30.5px;transform:rotate(91.4deg) scale(0.8528,1) translate(0,-0.8465em)">connection into the course computer connector</div>
<div class="t k" style="left:650.1px;top:-24.8px;transform:rotate(91.4deg) scale(0.8247,1) translate(0,-0.8465em)">only after the functional test in Section 3.1 has</div>
<div class="t k" style="left:628.7px;top:-28.9px;transform:rotate(91.4deg) scale(0.8655,1) translate(0,-0.8465em)">been carried out.</div>
<div class="t k" style="left:681.0px;top:390.0px;transform:rotate(91.4deg) scale(0.7990,1) translate(0,-0.8465em)">The remaining two cores (red and black) drive</div>
<div class="t k" style="left:659.5px;top:378.0px;transform:rotate(91.4deg) scale(0.7898,1) translate(0,-0.8465em)">the actuator clutch and should also be</div>
<div class="t k" style="left:638.0px;top:377.0px;transform:rotate(91.4deg) scale(0.7847,1) translate(0,-0.8465em)">connected into the connector box.</div>
<div class="t cap" style="left:1125.2px;top:-9.8px;transform:rotate(91.4deg) scale(0.9337,1) translate(0,-0.8465em)">Fig. 39</div>
<div class="t cap" style="left:1096.8px;top:-11.1px;transform:rotate(91.4deg) scale(0.8986,1) translate(0,-0.8465em)">DC Power Supply</div>
<div class="t cap" style="left:1076.9px;top:-17.7px;transform:rotate(91.4deg) scale(0.9238,1) translate(0,-0.8465em)">and Drive Unit Connections</div>
<div class="t lab" style="left:363.5px;top:29.0px;transform:rotate(91.4deg) scale(0.7219,1) translate(0,-0.8465em)">Supply</div>
<div class="t lab" style="left:420.5px;top:224.0px;transform:rotate(91.4deg) scale(0.7607,1) translate(0,-0.8465em)">25 Amp</div>
<div class="t lab" style="left:575.5px;top:348.0px;transform:rotate(91.4deg) scale(0.7708,1) translate(0,-0.8465em)">Power</div>
<div class="t lab" style="left:559.0px;top:348.0px;transform:rotate(91.4deg) scale(0.7313,1) translate(0,-0.8465em)">Supply</div>
<div class="t lab" style="left:539.0px;top:527.5px;transform:rotate(91.4deg) scale(0.7535,1) translate(0,-0.8465em)">Clutch</div>
<div class="t lab" style="left:523.0px;top:526.0px;transform:rotate(91.4deg) scale(0.7637,1) translate(0,-0.8465em)">(red &amp; black)</div>
<div class="t lab" style="left:519.0px;top:619.0px;transform:rotate(91.4deg) scale(0.7203,1) translate(0,-0.8465em)">Motor</div>
<div class="t lab" style="left:502.5px;top:617.5px;transform:rotate(91.4deg) scale(0.7459,1) translate(0,-0.8465em)">(brown &amp; blue)</div>
<div class="t lab" style="left:382.0px;top:489.0px;transform:rotate(91.4deg) scale(0.7743,1) translate(0,-0.8465em)">Drive Unit</div>
<div class="t lab" style="left:363.0px;top:487.5px;transform:rotate(91.4deg) scale(0.7515,1) translate(0,-0.8465em)">Cable (supplied)</div>
<div class="t lab" style="left:992.9px;top:-17.2px;transform:rotate(91.4deg) scale(0.7907,1) translate(0,-0.8465em)">Supply</div>
<div class="t lab" style="left:986.5px;top:304.0px;transform:rotate(91.4deg) scale(0.8044,1) translate(0,-0.8465em)">25 Amp</div>
<div class="t lab" style="left:1112.8px;top:421.0px;transform:rotate(91.4deg) scale(0.7604,1) translate(0,-0.8465em)">Power</div>
<div class="t lab" style="left:1095.0px;top:421.0px;transform:rotate(91.4deg) scale(0.7126,1) translate(0,-0.8465em)">Supply</div>
<div class="t lab" style="left:1087.8px;top:572.5px;transform:rotate(91.4deg) scale(0.7633,1) translate(0,-0.8465em)">Output</div>
<div class="t lab" style="left:1071.5px;top:571.0px;transform:rotate(91.4deg) scale(0.7504,1) translate(0,-0.8465em)">to Motor</div>
<div class="t lab" style="left:1069.0px;top:675.0px;transform:rotate(91.4deg) scale(0.7633,1) translate(0,-0.8465em)">Output</div>
<div class="t lab" style="left:1052.8px;top:675.0px;transform:rotate(91.4deg) scale(0.7070,1) translate(0,-0.8465em)">to Clutch</div>
<div class="t lab" style="left:758.5px;top:520.0px;transform:rotate(91.4deg) scale(0.7809,1) translate(0,-0.8465em)">Drive Unit</div>
<div class="bl" style="left:405.5px;top:828.0px"></div>
<div class="bl" style="left:342.5px;top:824.5px"></div>
<div class="bl" style="left:277.5px;top:823.0px"></div>
<div class="bl" style="left:215.0px;top:821.5px"></div>
<div class="bl" style="left:151.0px;top:820.5px"></div>
<div class="bl" style="left:1086.5px;top:1235.5px"></div>
<div class="bl" style="left:743.5px;top:1224.5px"></div>
<div class="bl" style="left:722.0px;top:1223.5px"></div>
<div class="bl" style="left:182.5px;top:1204.5px"></div>
<div class="bl" style="left:161.0px;top:1203.0px"></div>
<div class="bl" style="left:100.0px;top:1200.5px"></div>
</div>
</body></html>
